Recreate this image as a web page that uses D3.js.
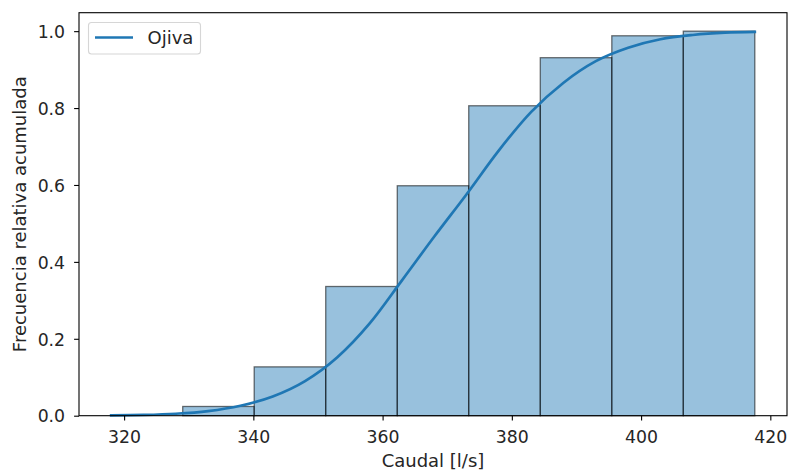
<!DOCTYPE html>
<html>
<head>
<meta charset="utf-8">
<script src="https://cdn.jsdelivr.net/npm/d3@7"></script>
<style>
  html, body { margin: 0; padding: 0; background: #ffffff; }
  svg { display: block; font-family: "DejaVu Sans", sans-serif; }
</style>
</head>
<body>
<svg id="chart" width="789" height="470"></svg>
<script>
// ---- data ----
const binEdges = [318.0, 329.07, 340.13, 351.2, 362.27, 373.33, 384.4, 395.47, 406.53, 417.6];
const cumFreq  = [0.0, 0.024, 0.127, 0.336, 0.598, 0.806, 0.931, 0.988, 1.0];

const ogiveX = [318, 323, 328, 333, 338, 343, 348, 353, 358, 363, 368, 373, 378, 383, 388, 393, 398, 403, 408, 413, 417.6];
const ogiveY = [0.001, 0.002, 0.005, 0.012, 0.026, 0.05, 0.09, 0.152, 0.24, 0.352, 0.466, 0.576, 0.69, 0.79, 0.866, 0.922, 0.957, 0.979, 0.99, 0.996, 0.998];

const xTicks = [320, 340, 360, 380, 400, 420];
const yTicks = [0.0, 0.2, 0.4, 0.6, 0.8, 1.0];

const xLabel = "Caudal [l/s]";
const yLabel = "Frecuencia relativa acumulada";
const legendLabel = "Ojiva";

// ---- layout ----
const plot = { left: 79, top: 12.7, right: 787, bottom: 415.7 };
const blue = "#1f77b4";
const tickFont = "17.3px";
const labelFont = "18px";

const svg = d3.select("#chart");

const xMin = binEdges[0], xMax = binEdges[binEdges.length - 1];
const xPad = (xMax - xMin) * 0.05;
const x = d3.scaleLinear().domain([xMin - xPad, xMax + xPad]).range([plot.left, plot.right]);
const y = d3.scaleLinear().domain([0, d3.max(ogiveY.concat(cumFreq)) * 1.05 - 0.002]).range([plot.bottom, plot.top]);

const bins = cumFreq.map((v, i) => ({ x0: binEdges[i], x1: binEdges[i + 1], v }));

// bars
svg.append("g")
  .selectAll("rect")
  .data(bins)
  .join("rect")
  .attr("x", d => x(d.x0))
  .attr("width", d => x(d.x1) - x(d.x0))
  .attr("y", d => y(d.v))
  .attr("height", d => y(0) - y(d.v))
  .attr("fill", blue)
  .attr("fill-opacity", 0.46)
  .attr("stroke", "#000")
  .attr("stroke-opacity", 0.55)
  .attr("stroke-width", 1.3);

// ogive line
const pts = ogiveX.map((v, i) => [v, ogiveY[i]]);
svg.append("path")
  .datum(pts)
  .attr("fill", "none")
  .attr("stroke", blue)
  .attr("stroke-width", 2.7)
  .attr("stroke-linecap", "square")
  .attr("d", d3.line().x(d => x(d[0])).y(d => y(d[1])).curve(d3.curveMonotoneX));

// axes
const xAxis = d3.axisBottom(x).tickValues(xTicks).tickFormat(d3.format("d")).tickSize(4.9).tickPadding(9);
const yAxis = d3.axisLeft(y).tickValues(yTicks).tickFormat(d3.format(".1f")).tickSize(4.9).tickPadding(9);

const gx = svg.append("g").attr("transform", `translate(0,${plot.bottom})`).call(xAxis);
const gy = svg.append("g").attr("transform", `translate(${plot.left},0)`).call(yAxis);
[gx, gy].forEach(g => {
  g.select(".domain").remove();
  g.selectAll(".tick line").attr("stroke", "#000").attr("stroke-width", 1.1);
  g.selectAll(".tick text").attr("fill", "#262626").style("font-size", tickFont).style("font-family", "DejaVu Sans");
});
gx.selectAll(".tick text").attr("y", 15.5).attr("dy", "0.71em");
gy.selectAll(".tick text").attr("dy", "0.36em");

// frame
svg.append("rect")
  .attr("x", plot.left).attr("y", plot.top)
  .attr("width", plot.right - plot.left).attr("height", plot.bottom - plot.top)
  .attr("fill", "none").attr("stroke", "#000").attr("stroke-width", 1.1);

// axis labels
svg.append("text")
  .attr("x", (plot.left + plot.right) / 2).attr("y", 467)
  .attr("text-anchor", "middle").attr("fill", "#262626")
  .style("font-size", labelFont).text(xLabel);

svg.append("text")
  .attr("transform", `translate(25.5,${(plot.top + plot.bottom) / 2}) rotate(-90)`)
  .attr("text-anchor", "middle").attr("fill", "#262626")
  .style("font-size", labelFont).text(yLabel);

// legend
const lg = svg.append("g");
lg.append("rect")
  .attr("x", 88.5).attr("y", 22.5).attr("width", 112).attr("height", 31.5)
  .attr("rx", 3).attr("fill", "#fff").attr("fill-opacity", 0.8)
  .attr("stroke", "#d6d6d6").attr("stroke-width", 1.1);
lg.append("line")
  .attr("x1", 95).attr("x2", 133).attr("y1", 37.5).attr("y2", 37.5)
  .attr("stroke", blue).attr("stroke-width", 2.7);
lg.append("text")
  .attr("x", 147.5).attr("y", 44).attr("fill", "#262626")
  .style("font-size", labelFont).text(legendLabel);
</script>
</body>
</html>
